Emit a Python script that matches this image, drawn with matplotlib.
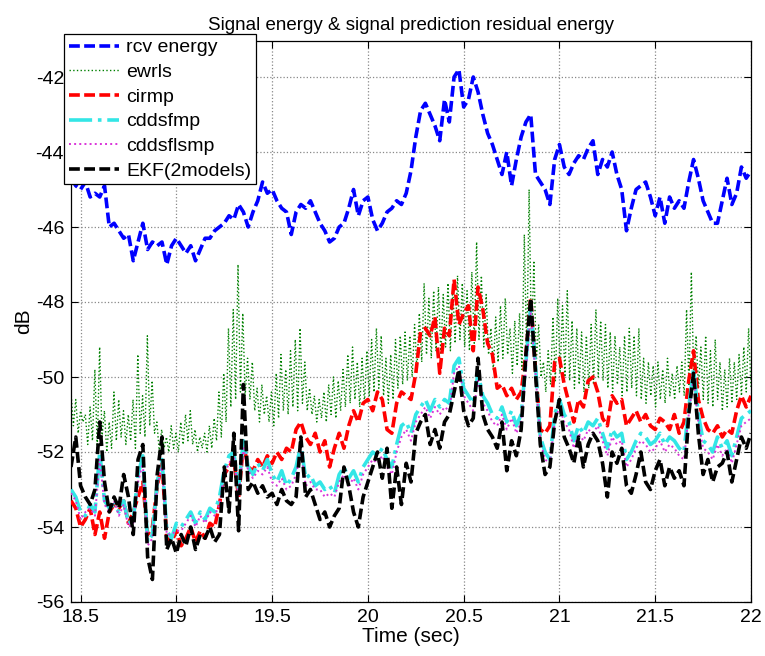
import numpy as np
import matplotlib
matplotlib.use("Agg")
import matplotlib.pyplot as plt

plt.rcParams['font.family'] = ['Liberation Sans', 'DejaVu Sans']

# ---- data (dB), time 18.45 .. 22.0 s ----
rcv_energy = [
    -44.7, -44.9, -45.0, -44.8, -45.2, -45.1, -45.2, -44.9, -46.0, -45.9,
    -46.1, -46.3, -46.2, -46.9, -46.4, -45.9, -46.6, -46.4, -46.5, -46.4,
    -47.0, -46.5, -46.3, -46.5, -46.7, -46.5, -46.9, -46.6, -46.3, -46.3,
    -46.1, -46.0, -45.9, -45.7, -45.8, -45.4, -45.6, -46.0, -45.6, -45.3,
    -44.8, -45.1, -45.0, -45.3, -45.5, -45.6, -46.2, -45.6, -45.4, -45.5,
    -45.3, -45.6, -45.9, -46.1, -46.4, -46.3, -46.0, -45.9, -45.5, -45.0,
    -45.7, -45.3, -45.2, -45.8, -46.1, -45.9, -45.6, -45.5, -45.3, -45.4,
    -45.1, -44.5, -43.6, -42.9, -42.7, -43.0, -43.3, -43.7, -42.6, -43.2,
    -42.0, -41.8, -42.8, -42.6, -42.0, -42.4, -43.0, -43.5, -43.8, -44.2,
    -44.6, -44.0, -44.9, -44.2, -43.6, -43.2, -43.0, -44.6, -44.8, -45.0,
    -45.4, -44.2, -43.8, -44.4, -44.6, -44.3, -44.1, -44.2, -43.9, -43.7,
    -44.6, -44.2, -44.4, -44.0, -44.6, -45.0, -46.1, -45.5, -45.0, -44.9,
    -44.8, -45.2, -45.7, -45.2, -45.9, -45.2, -45.5, -45.3, -45.5, -44.8,
    -44.2, -44.7, -45.3, -45.6, -45.9, -45.9, -45.3, -44.7, -45.4, -45.1,
    -44.4, -44.7, -44.5,
]

ewrls = [
    -50.4, -51.3, -50.6, -51.5, -50.9, -51.2, -51.0, -51.8, -50.8, -51.7,
    -49.8, -51.9, -49.2, -51.6, -50.9, -52.0, -51.2, -51.9, -50.4, -51.7,
    -50.6, -51.6, -50.9, -51.8, -51.0, -51.7, -50.6, -51.9, -49.4, -51.5,
    -50.5, -51.6, -48.9, -51.3, -50.1, -51.5, -51.2, -52.0, -51.4, -51.9,
    -51.6, -52.0, -51.3, -51.9, -51.5, -52.0, -51.2, -51.8, -51.0, -51.7,
    -50.9, -51.8, -51.4, -52.0, -51.6, -51.9, -51.5, -52.0, -51.3, -51.9,
    -51.1, -51.7, -50.4, -51.6, -49.9, -51.2, -48.7, -50.8, -48.2, -50.6,
    -47.0, -50.4, -48.3, -50.5, -49.5, -50.6, -49.6, -50.9, -50.3, -51.2,
    -50.2, -51.0, -50.5, -51.2, -50.4, -51.3, -49.9, -51.1, -49.4, -50.9,
    -49.8, -51.0, -49.3, -50.8, -49.0, -50.9, -48.7, -50.7, -49.6, -50.9,
    -50.3, -51.0, -50.5, -51.2, -50.6, -51.1, -50.4, -51.2, -50.2, -51.0,
    -50.0, -51.1, -50.1, -50.9, -49.8, -50.8, -49.4, -50.7, -49.2, -50.6,
    -49.6, -50.8, -49.5, -50.7, -49.3, -50.5, -49.0, -50.4, -48.7, -50.3,
    -48.9, -50.5, -49.5, -50.7, -49.4, -50.6, -49.0, -50.3, -48.9, -50.2,
    -48.8, -50.1, -48.9, -50.0, -48.6, -49.8, -48.3, -49.6, -47.5, -49.4,
    -47.9, -49.5, -47.7, -49.3, -47.6, -49.4, -47.8, -49.2, -47.5, -49.3,
    -47.6, -49.1, -47.3, -49.0, -47.5, -49.2, -47.7, -49.3, -47.2, -49.1,
    -46.4, -49.0, -47.3, -49.2, -47.8, -49.4, -48.7, -49.8, -48.4, -49.6,
    -48.1, -49.5, -47.9, -49.4, -48.7, -49.9, -48.5, -49.7, -48.3, -49.8,
    -46.2, -49.5, -45.0, -49.2, -46.9, -49.6, -48.6, -50.0, -49.6, -50.4,
    -49.3, -50.2, -48.4, -50.1, -47.9, -49.9, -48.1, -50.0, -47.7, -50.1,
    -48.5, -50.3, -48.7, -50.2, -48.8, -50.4, -48.9, -50.3, -48.6, -50.2,
    -48.2, -50.0, -48.5, -50.1, -48.6, -50.3, -48.8, -50.4, -48.9, -50.2,
    -49.2, -50.5, -48.9, -50.4, -48.7, -50.3, -48.9, -50.5, -48.7, -50.6,
    -49.5, -50.7, -49.6, -50.5, -49.7, -50.8, -49.6, -50.6, -49.8, -50.7,
    -49.5, -50.5, -49.9, -50.6, -49.7, -50.4, -49.6, -50.5, -48.2, -50.2,
    -47.2, -50.0, -48.9, -50.3, -49.2, -50.6, -48.9, -50.7, -49.3, -50.8,
    -49.0, -50.6, -49.6, -50.9, -49.8, -50.8, -49.5, -50.7, -49.6, -50.6,
    -49.4, -50.5, -49.2, -50.4, -48.7, -50.3,
]

cirmp = [
    -53.3, -53.5, -54.0, -53.8, -53.5, -54.2, -53.6, -54.3, -53.6, -53.4,
    -53.5, -53.3, -53.9, -53.6, -53.2, -52.8, -54.2, -54.0, -52.9, -52.3,
    -54.3, -54.4, -54.1, -54.5, -54.3, -54.0, -54.4, -54.1, -54.3, -53.9,
    -54.0, -53.4, -52.6, -52.4, -52.2, -53.2, -51.8, -52.4, -52.5, -52.2,
    -52.4, -52.1, -52.3, -52.0, -52.2, -51.9, -52.0, -51.4, -51.2, -51.6,
    -51.8, -51.5, -52.0, -51.7, -52.4, -51.9, -51.5, -51.9, -51.3, -50.9,
    -51.2, -50.7, -50.6, -50.9, -50.4, -50.6, -51.4, -51.5, -50.7, -50.4,
    -50.5, -50.6, -49.9, -48.8, -48.7, -48.9, -48.4, -49.9, -48.7, -48.9,
    -47.4, -48.6, -48.3, -48.1, -49.3, -47.6, -48.2, -49.1, -49.4, -50.3,
    -50.2, -50.5, -50.3, -50.6, -50.4, -49.4, -47.9, -49.8, -51.4, -51.5,
    -51.3, -49.6, -49.5, -50.2, -50.7, -51.2, -50.6, -50.8, -50.1, -50.0,
    -50.4, -51.1, -51.3, -50.5, -50.7, -50.6, -51.3, -51.1, -50.9, -51.2,
    -51.0, -51.3, -51.4, -51.1, -51.2, -51.4, -51.0, -51.5, -51.2, -50.1,
    -49.3, -50.6, -51.1, -51.4, -51.5, -51.3, -51.6, -51.4, -51.5, -50.9,
    -50.5, -50.8, -50.5,
]

cddsfmp = [
    -53.0, -53.2, -53.6, -53.7, -53.4, -53.6, -52.0, -53.3, -53.5, -53.4,
    -53.6, -53.3, -53.9, -53.8, -52.6, -52.1, -54.4, -54.2, -52.8, -52.2,
    -54.1, -54.3, -53.9, -54.0, -53.8, -53.6, -53.9, -53.6, -53.8, -53.5,
    -53.6, -53.2, -52.5, -52.1, -52.0, -53.0, -51.7, -52.4, -52.6, -52.3,
    -52.5, -52.2, -52.6, -52.8, -52.5, -52.9, -52.7, -52.4, -51.8, -52.7,
    -52.6, -52.9, -52.8, -53.0, -52.9, -53.1, -52.6, -52.4, -52.7, -52.5,
    -52.8, -52.4, -52.2, -52.0, -52.1, -51.9, -52.2, -52.4, -51.8, -51.3,
    -51.2, -51.5, -51.0, -50.8, -50.6, -50.9, -50.6, -50.8, -50.6, -50.7,
    -49.7, -49.5, -50.3, -50.5, -50.7, -49.9, -50.5, -50.7, -51.0, -51.1,
    -50.8, -51.2, -50.9, -51.3, -51.0, -49.6, -48.1, -49.7, -51.6, -52.0,
    -52.2, -51.0, -50.6, -51.0, -51.2, -51.7, -51.3, -51.5, -51.2, -51.3,
    -51.1, -51.5, -51.9, -51.4, -51.6, -51.5, -52.2, -52.0, -51.7, -51.5,
    -51.6, -51.8, -51.7, -51.5, -51.8, -51.6, -51.7, -51.9, -52.0, -50.8,
    -49.8, -51.0, -51.7, -51.8, -52.0, -51.6, -51.9, -51.7, -52.1, -51.6,
    -51.1, -51.0, -50.9,
]

cddsflsmp = [
    -53.1, -53.3, -53.8, -53.6, -53.5, -53.7, -52.2, -53.4, -53.6, -53.3,
    -53.7, -53.4, -54.0, -53.9, -52.8, -52.3, -54.5, -54.3, -52.9, -52.4,
    -54.2, -54.2, -54.1, -54.1, -53.9, -53.7, -54.0, -53.7, -53.9, -53.6,
    -53.7, -53.4, -52.6, -52.3, -52.1, -53.2, -51.9, -52.5, -52.7, -52.5,
    -52.6, -52.4, -52.8, -52.9, -52.7, -53.0, -52.9, -52.6, -52.0, -52.9,
    -52.8, -53.0, -53.0, -53.2, -53.1, -53.2, -52.8, -52.6, -52.9, -52.7,
    -53.0, -52.6, -52.4, -52.2, -52.3, -52.1, -52.4, -52.6, -52.0, -51.6,
    -51.4, -51.7, -51.2, -51.0, -50.8, -51.1, -50.8, -51.0, -50.8, -50.9,
    -49.9, -49.7, -50.5, -50.7, -50.9, -50.1, -50.7, -50.9, -51.2, -51.3,
    -51.0, -51.4, -51.1, -51.5, -51.2, -49.8, -48.3, -49.9, -51.7, -52.2,
    -52.3, -51.2, -50.8, -51.2, -51.4, -51.9, -51.5, -51.7, -51.4, -51.5,
    -51.3, -51.7, -52.1, -51.6, -51.8, -51.7, -52.4, -52.2, -51.9, -51.7,
    -51.8, -52.0, -51.9, -51.7, -52.0, -51.8, -51.9, -52.1, -52.2, -51.0,
    -50.0, -51.2, -51.9, -52.0, -52.2, -51.8, -52.1, -51.9, -52.3, -51.8,
    -51.3, -51.2, -51.1,
]

ekf_2models = [
    -52.4, -51.6, -52.9, -53.2, -53.4, -53.0, -51.2, -52.8, -53.6, -53.2,
    -53.5, -52.6, -53.2, -54.2, -52.2, -51.8, -54.8, -55.4, -52.6, -51.6,
    -54.6, -54.3, -54.7, -54.2, -54.5, -54.0, -54.6, -54.2, -54.3, -54.0,
    -54.4, -54.2, -52.4, -53.6, -51.5, -54.1, -50.2, -53.0, -52.8, -53.1,
    -52.9, -53.2, -53.1, -53.4, -53.0, -53.3, -53.4, -53.2, -51.6, -53.2,
    -53.0, -53.4, -53.8, -53.6, -54.0, -53.7, -53.5, -52.4, -52.9, -53.6,
    -54.0, -53.2, -52.8, -52.4, -52.0, -52.7, -51.9, -53.5, -52.4, -53.4,
    -52.3, -52.8, -51.5, -51.2, -51.0, -51.8, -51.4, -51.9, -51.2, -51.0,
    -50.4, -49.8, -50.9, -51.3, -51.1, -49.5, -51.0, -51.4, -51.6, -51.9,
    -51.2, -52.5, -51.7, -52.1, -51.4, -49.4, -47.9, -49.9, -51.8, -52.6,
    -52.4, -51.2, -50.6, -51.6, -51.9, -52.3, -51.6, -52.4, -51.8, -51.5,
    -51.7, -52.3, -53.2, -52.0, -52.3, -51.9, -52.9, -53.1, -52.6, -52.0,
    -52.8, -53.0, -52.5, -52.2, -52.9, -52.4, -52.7, -52.5, -52.9, -51.0,
    -49.9, -51.5, -52.6, -52.2, -52.8, -52.4, -52.3, -52.0, -52.8, -52.2,
    -51.6, -51.9, -51.5,
]

series_labels = ['rcv energy', 'ewrls', 'cirmp', 'cddsfmp', 'cddsflsmp', 'EKF(2models)']
x_ticks = [18.5, 19, 19.5, 20, 20.5, 21, 21.5, 22]
x_tick_labels = ['18.5', '19', '19.5', '20', '20.5', '21', '21.5', '22']
y_ticks = [-56, -54, -52, -50, -48, -46, -44, -42]
y_tick_labels = ['-56', '-54', '-52', '-50', '-48', '-46', '-44', '-42']

T0, T1 = 18.45, 22.0

fig = plt.figure(figsize=(7.65, 6.56), dpi=100)
ax = fig.add_axes([71/765, 54/656, 680/765, 561/656])

def tgrid(v):
    return np.linspace(T0, T1, len(v))

ax.plot(tgrid(rcv_energy), rcv_energy, color=(0, 0, 1), ls='--', lw=2.6,
        dashes=(3, 1.2), label=series_labels[0], zorder=3)
ax.plot(tgrid(ewrls), ewrls, color=(0, 0.5, 0), ls=':', lw=1.0,
        label=series_labels[1], zorder=2)
ax.plot(tgrid(cirmp), cirmp, color=(1, 0, 0), ls='--', lw=2.6,
        dashes=(3, 1.2), label=series_labels[2], zorder=3)
ax.plot(tgrid(cddsfmp), cddsfmp, color=(0.2, 0.9, 0.9), ls='-.', lw=2.6,
        label=series_labels[3], zorder=4)
ax.plot(tgrid(cddsflsmp), cddsflsmp, color=(0.85, 0.2, 0.85), ls=':', lw=1.4,
        label=series_labels[4], zorder=5)
ax.plot(tgrid(ekf_2models), ekf_2models, color='black', ls='--', lw=2.6,
        dashes=(3, 1.2), label=series_labels[5], zorder=6)

ax.set_xlim(T0, T1)
ax.set_ylim(-56, -41.04)
ax.set_xticks(x_ticks)
ax.set_xticklabels(x_tick_labels)
ax.set_yticks(y_ticks)
ax.set_yticklabels(y_tick_labels)
ax.tick_params(direction='in', top=True, right=True, labelsize=14, length=5, pad=5)
ax.grid(True, ls=':', color='#888888', lw=0.9)
for s in ax.spines.values():
    s.set_linewidth(0.9)

ax.set_title('Signal energy & signal prediction residual energy', fontsize=13.5, pad=8)
ax.set_xlabel('Time (sec)', fontsize=15, labelpad=1)
ax.set_ylabel('dB', fontsize=15, labelpad=2)

leg = fig.legend(loc='upper left', bbox_to_anchor=(64/765, 1 - 34/656),
                 fontsize=14, frameon=True, fancybox=False, edgecolor='black',
                 framealpha=1, borderpad=0.25, labelspacing=0.36,
                 handlelength=2.6, handletextpad=0.35, borderaxespad=0)
leg.get_frame().set_linewidth(0.9)

fig.savefig('out.png', dpi=100)
